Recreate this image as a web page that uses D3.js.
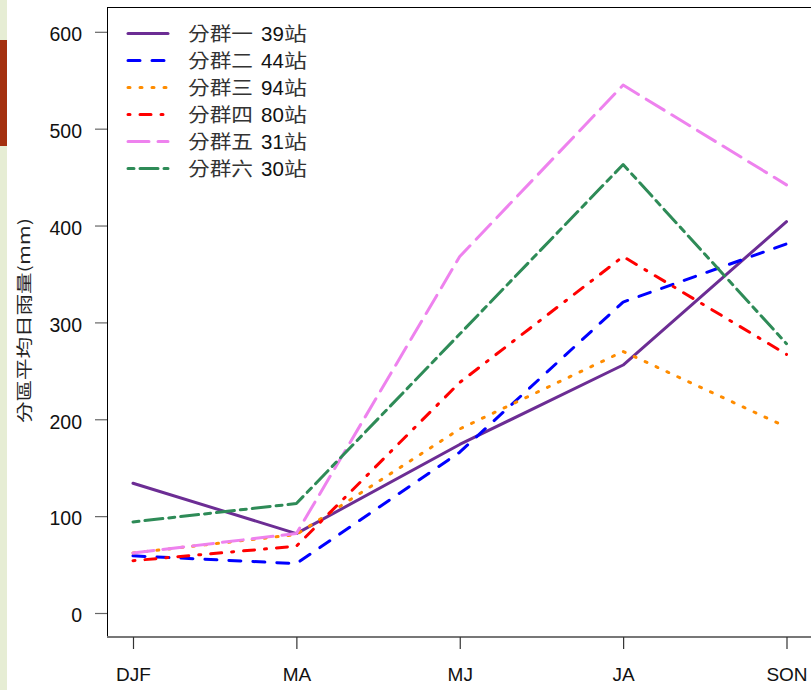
<!DOCTYPE html>
<html><head><meta charset="utf-8">
<script src="https://cdn.jsdelivr.net/npm/d3@7"></script>
<style>body{margin:0;background:#fff;}svg{display:block;}</style>
</head><body>
<svg id="c" width="811" height="690"></svg>
<script>
const categories = ["DJF","MA","MJ","JA","SON"];
const seriesPrefix = ["分群一","分群二","分群三","分群四","分群五","分群六"];
const seriesCounts = ["39","44","94","80","31","30"];
const s1 = [134, 82, 174, 256, 404];
const s2 = [59, 51, 166, 321, 381];
const s3 = [62, 81, 190, 270, 192];
const s4 = [54, 69, 238, 368, 267];
const s5 = [62, 82, 368, 545, 442];
const s6 = [94, 113, 288, 463, 278];
const seriesValues = [s1, s2, s3, s4, s5, s6];
const yTicks = [0, 100, 200, 300, 400, 500, 600];
const colors = ["#6c2d94", "#0000ff", "#ff8c00", "#ff0000", "#ee82ee", "#2e8b57"];
const dashes = [null, "12,12", "2,10", "2,10,11,10", "21,9", "6,6,18,6"];

const svg = d3.select("#c");
svg.append("rect").attr("x",0).attr("y",0).attr("width",7).attr("height",690).attr("fill","#e6edd4");
svg.append("rect").attr("x",0).attr("y",40).attr("width",7).attr("height",106).attr("fill","#a4300f");

const x = d3.scalePoint().domain(categories).range([133, 786.5]);
const y = d3.scaleLinear().domain([0, 600]).range([613, 31.8]);

const fontAx = "'Liberation Sans', Arial, 'Noto Sans CJK TC', sans-serif";

svg.append("line").attr("x1",107).attr("x2",811).attr("y1",7.5).attr("y2",7.5).attr("stroke","#000").attr("stroke-width",1);
svg.append("line").attr("x1",107.5).attr("x2",107.5).attr("y1",7).attr("y2",637).attr("stroke","#000").attr("stroke-width",1);
svg.append("line").attr("x1",107).attr("x2",811).attr("y1",637).attr("y2",637).attr("stroke","#777").attr("stroke-width",2);

const ya = svg.append("g").attr("transform","translate(107,0)")
  .call(d3.axisLeft(y).tickValues(yTicks).tickSize(12).tickPadding(13).tickFormat(d3.format("d")));
ya.select(".domain").remove();
ya.selectAll(".tick line").attr("stroke","#666").attr("stroke-width",1.2);
ya.selectAll(".tick text").attr("font-family",fontAx).attr("font-size",19.5).attr("fill","#111").attr("dy","0.45em");

const xa = svg.append("g").attr("transform","translate(0,637)")
  .call(d3.axisBottom(x).tickSize(12).tickPadding(18.5));
xa.select(".domain").remove();
xa.selectAll(".tick line").attr("stroke","#333").attr("stroke-width",1.2);
xa.selectAll(".tick text").attr("font-family",fontAx).attr("font-size",19).attr("fill","#111");

svg.append("text").attr("transform","translate(30,320.5) rotate(-90)")
  .attr("text-anchor","middle").attr("font-family","'Noto Sans CJK TC', sans-serif")
  .attr("font-size",16).attr("fill","#222")
  .attr("textLength",205).attr("lengthAdjust","spacingAndGlyphs")
  .text("分區平均日雨量(mm)");

const line = d3.line().x((d,i)=>x(categories[i])).y(d=>y(d));
seriesValues.forEach((vals, k) => {
  svg.append("path").datum(vals).attr("d", line)
    .attr("fill","none").attr("stroke", colors[k]).attr("stroke-width",3)
    .attr("stroke-linecap","round").attr("stroke-linejoin","round")
    .attr("stroke-dasharray", dashes[k]);
});

const lg = svg.append("g");
seriesPrefix.forEach((name, k) => {
  const yy = 33.5 + k*27;
  lg.append("line").attr("x1",128).attr("x2",168).attr("y1",yy).attr("y2",yy)
    .attr("stroke",colors[k]).attr("stroke-width",3).attr("stroke-linecap","round")
    .attr("stroke-dasharray", dashes[k]);
  lg.append("text").attr("x",188).attr("y",yy+7.5).attr("font-size",19)
    .attr("font-family","'Noto Sans CJK TC', sans-serif").attr("fill","#333")
    .attr("textLength",65).attr("lengthAdjust","spacingAndGlyphs").text(name);
  lg.append("text").attr("x",261).attr("y",yy+7.5).attr("font-size",20.5)
    .attr("font-family",fontAx).attr("fill","#111").text(seriesCounts[k]);
  lg.append("text").attr("x",284).attr("y",yy+7.5).attr("font-size",19)
    .attr("font-family","'Noto Sans CJK TC', sans-serif").attr("fill","#333")
    .attr("textLength",23).attr("lengthAdjust","spacingAndGlyphs").text("站");
});
</script>
</body></html>
